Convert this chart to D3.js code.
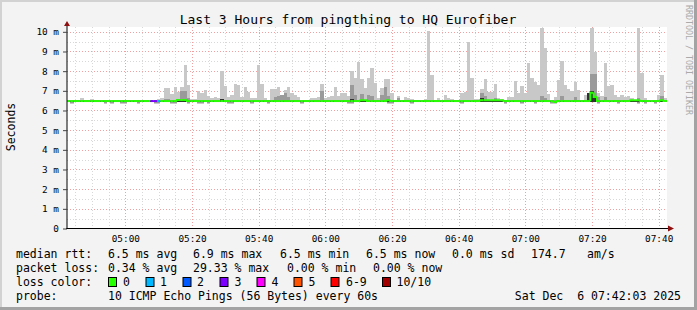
<!DOCTYPE html>
<html><head><meta charset="utf-8">
<script src="https://cdn.jsdelivr.net/npm/d3@7"></script>
<style>
body{margin:0;background:#f3f3f3}
svg{display:block}
text{font-family:"DejaVu Sans Mono",monospace;fill:#000}
</style>
</head><body>
<svg id="chart" width="697" height="310"></svg>
<script>
// ---------------- DATA ----------------
const titleText = "Last 3 Hours from pingthing to HQ Eurofiber";
const startTime = new Date(2025, 11, 6, 4, 42, 30);
const endTime = new Date(2025, 11, 6, 7, 42, 30);
const stepSeconds = 60;

// largest ping per 60 s step (ms)
const pingMaxMs = [
6.55,6.55,6.55,6.55,6.64,6.55,6.55,6.60,6.55,6.55,
6.55,6.55,6.55,6.55,6.55,6.55,6.55,6.55,6.55,6.55,
6.55,6.55,6.55,6.55,6.55,6.55,6.55,6.58,6.64,7.15,
7.15,6.83,7.20,6.95,7.20,8.30,7.29,6.60,6.60,7.00,
6.87,7.03,6.73,6.64,6.70,6.64,8.00,7.24,6.70,6.78,
7.34,7.29,6.70,7.20,6.95,6.62,6.62,8.30,7.34,6.64,
6.55,7.08,7.08,7.20,6.81,7.03,7.20,6.87,6.78,6.70,
6.55,6.55,6.55,6.62,6.62,6.70,7.37,6.64,6.70,6.73,
7.20,6.73,6.90,6.87,6.73,8.00,7.63,8.47,7.58,7.12,
7.63,8.16,7.40,6.64,7.12,7.60,7.60,6.87,6.55,6.73,
6.55,6.70,6.64,6.58,6.55,6.55,6.55,6.58,10.05,7.80,
6.55,6.62,6.55,6.78,6.64,6.60,6.55,6.55,6.87,6.95,
9.49,7.63,6.60,6.58,7.08,7.60,6.95,6.95,7.37,6.62,
6.60,6.55,6.70,6.70,7.49,6.87,7.24,6.87,8.42,7.66,
7.46,7.29,10.20,9.19,6.83,6.55,6.70,7.54,8.52,7.29,
7.07,6.98,7.46,7.03,6.55,6.78,6.78,10.17,8.99,6.87,
6.73,8.42,7.24,7.32,6.78,6.70,6.78,6.70,6.73,6.62,
6.55,10.20,7.92,6.64,6.55,6.55,6.55,6.78,7.80,6.62];

// top of the inner (darker) ping band (ms)
const pingInnerMs = [
6.52,6.52,6.52,6.52,6.52,6.52,6.52,6.52,6.52,6.52,
6.52,6.52,6.52,6.52,6.52,6.52,6.52,6.52,6.52,6.52,
6.52,6.52,6.52,6.52,6.52,6.52,6.52,6.52,6.52,6.60,
6.60,6.52,6.52,6.52,7.00,7.00,6.65,6.52,6.52,6.52,
6.52,6.52,6.52,6.52,6.52,6.52,6.52,6.52,6.52,6.52,
6.52,6.52,6.52,6.52,6.52,6.52,6.52,6.52,6.52,6.52,
6.52,6.52,6.70,6.75,6.80,6.87,6.70,6.52,6.52,6.52,
6.52,6.52,6.52,6.52,6.52,6.52,7.00,6.52,6.52,6.52,
6.52,6.52,6.52,6.52,6.52,7.29,6.78,6.52,6.85,6.52,
6.78,6.72,6.52,6.52,6.78,7.20,6.73,6.52,6.52,6.65,
6.52,6.52,6.52,6.52,6.52,6.52,6.52,6.52,6.52,6.52,
6.52,6.52,6.52,6.52,6.52,6.52,6.52,6.52,6.52,6.52,
6.52,6.52,6.52,6.52,6.87,6.75,6.52,6.52,6.65,6.52,
6.52,6.52,6.52,6.52,6.52,6.52,6.52,6.52,6.52,6.52,
6.52,6.52,6.73,6.65,6.52,6.52,6.52,6.52,6.75,6.52,
6.52,6.52,6.70,6.52,6.52,6.52,6.75,7.88,7.88,6.70,
6.52,6.70,6.52,6.52,6.52,6.52,6.52,6.52,6.52,6.52,
6.52,6.65,6.52,6.52,6.52,6.52,6.52,6.52,6.73,6.52];

// top of the core (darkest) ping band (ms)
const pingCoreMs = [
6.46,6.46,6.46,6.46,6.46,6.46,6.46,6.46,6.46,6.46,
6.46,6.46,6.46,6.46,6.46,6.46,6.46,6.46,6.46,6.46,
6.46,6.46,6.46,6.46,6.46,6.46,6.46,6.46,6.46,6.46,
6.46,6.46,6.46,6.46,6.46,6.46,6.46,6.46,6.46,6.46,
6.46,6.46,6.46,6.46,6.46,6.46,6.58,6.46,6.46,6.46,
6.46,6.46,6.46,6.46,6.46,6.46,6.46,6.46,6.46,6.46,
6.46,6.46,6.46,6.46,6.46,6.46,6.46,6.46,6.46,6.46,
6.46,6.46,6.46,6.46,6.46,6.46,6.46,6.46,6.46,6.46,
6.46,6.46,6.46,6.46,6.46,6.60,6.46,6.46,6.46,6.46,
6.46,6.46,6.46,6.46,6.46,6.46,6.46,6.46,6.46,6.46,
6.46,6.46,6.46,6.46,6.46,6.46,6.46,6.46,6.46,6.46,
6.46,6.46,6.46,6.46,6.46,6.46,6.46,6.46,6.46,6.46,
6.46,6.46,6.46,6.46,6.62,6.46,6.46,6.46,6.46,6.46,
6.46,6.46,6.46,6.46,6.46,6.46,6.46,6.46,6.46,6.46,
6.46,6.46,6.46,6.46,6.46,6.46,6.46,6.46,6.46,6.46,
6.46,6.46,6.46,6.46,6.46,6.46,6.90,6.98,6.75,6.46,
6.46,6.46,6.46,6.46,6.46,6.46,6.46,6.46,6.46,6.46,
6.46,6.46,6.46,6.46,6.46,6.46,6.46,6.46,6.46,6.46];

// smallest ping per step (ms)
const pingMinMs = [
6.44,6.34,6.44,6.44,6.44,6.44,6.44,6.44,6.44,6.44,
6.44,6.34,6.44,6.34,6.44,6.44,6.34,6.34,6.44,6.44,
6.44,6.34,6.44,6.44,6.44,6.44,6.34,6.34,6.44,6.44,
6.44,6.34,6.34,6.44,6.44,6.44,6.34,6.44,6.44,6.34,
6.34,6.44,6.34,6.44,6.44,6.44,6.44,6.44,6.34,6.34,
6.44,6.44,6.44,6.44,6.44,6.34,6.44,6.44,6.44,6.44,
6.34,6.44,6.44,6.44,6.44,6.44,6.44,6.44,6.44,6.44,
6.34,6.44,6.44,6.44,6.44,6.44,6.44,6.44,6.44,6.44,
6.44,6.44,6.44,6.44,6.34,6.34,6.44,6.44,6.44,6.44,
6.44,6.44,6.44,6.44,6.44,6.44,6.34,6.34,6.44,6.44,
6.44,6.44,6.44,6.34,6.44,6.44,6.44,6.44,6.44,6.44,
6.44,6.44,6.44,6.44,6.44,6.44,6.44,6.44,6.34,6.44,
6.44,6.44,6.44,6.44,6.44,6.44,6.44,6.44,6.44,6.44,
6.44,6.34,6.44,6.44,6.44,6.44,6.34,6.44,6.44,6.44,
6.34,6.44,6.44,6.44,6.44,6.34,6.34,6.44,6.44,6.44,
6.44,6.44,6.44,6.44,6.44,6.44,6.44,6.44,6.44,6.34,
6.44,6.44,6.44,6.44,6.44,6.34,6.44,6.44,6.44,6.44,
6.44,6.34,6.44,6.34,6.44,6.44,6.34,6.44,6.44,6.44];

// median rtt per step (ms)
const medianMs = [
6.48,6.48,6.48,6.48,6.48,6.48,6.48,6.48,6.48,6.48,
6.48,6.48,6.48,6.48,6.48,6.48,6.48,6.48,6.48,6.48,
6.48,6.48,6.48,6.48,6.48,6.48,6.48,6.48,6.48,6.48,
6.48,6.48,6.48,6.53,6.53,6.53,6.48,6.48,6.48,6.48,
6.48,6.48,6.48,6.48,6.48,6.48,6.48,6.48,6.48,6.48,
6.48,6.48,6.48,6.48,6.48,6.48,6.48,6.48,6.48,6.48,
6.48,6.48,6.48,6.48,6.48,6.48,6.48,6.48,6.48,6.48,
6.48,6.48,6.48,6.48,6.48,6.48,6.48,6.48,6.48,6.48,
6.48,6.48,6.48,6.48,6.48,6.48,6.48,6.48,6.52,6.52,
6.48,6.48,6.48,6.48,6.48,6.48,6.52,6.48,6.48,6.48,
6.48,6.48,6.48,6.48,6.48,6.48,6.48,6.48,6.48,6.48,
6.48,6.48,6.48,6.48,6.48,6.48,6.48,6.48,6.48,6.48,
6.48,6.48,6.48,6.48,6.52,6.52,6.52,6.52,6.52,6.52,
6.52,6.48,6.48,6.48,6.48,6.48,6.48,6.48,6.48,6.48,
6.48,6.48,6.48,6.48,6.48,6.48,6.43,6.48,6.48,6.48,
6.48,6.48,6.48,6.48,6.48,6.48,6.48,6.90,6.68,6.48,
6.48,6.48,6.48,6.48,6.48,6.48,6.48,6.48,6.48,6.52,
6.52,6.52,6.48,6.48,6.48,6.48,6.48,6.48,6.52,6.48];

// lost pings (of 10) per step
const lossCount = [
0,0,0,0,0,0,0,0,0,0, 0,0,0,0,0,0,0,0,0,0, 0,0,0,0,0,3,3,1,0,0,
0,0,0,0,0,0,0,0,0,0, 0,0,0,0,0,0,0,0,0,0, 0,0,0,0,0,0,0,0,0,0,
0,0,0,0,0,0,0,0,0,0, 0,0,0,0,0,0,0,0,0,0, 0,0,0,0,0,0,0,0,0,0,
0,0,0,0,0,0,0,0,0,0, 0,0,0,0,0,0,0,0,0,0, 0,0,0,0,0,0,0,0,0,0,
0,0,0,0,0,0,0,0,0,0, 0,0,0,0,0,0,0,0,0,0, 0,0,0,0,0,0,0,0,0,0,
0,0,0,0,0,0,0,0,0,0, 0,0,0,0,0,0,0,0,0,0, 0,0,0,0,0,0,0,0,0,0];

const yTickValues = [0,1,2,3,4,5,6,7,8,9,10];
const lossLegendLabels = ["0","1","2","3","4","5","6-9","10/10"];
const lossLegendColors = ["#26ff00","#00b8ff","#0059ff","#7e00ff","#ff00ff","#ff5500","#ff0000","#a10000"];
const lossLegendBoxX = [108,145.5,182.5,219.5,256.5,293.5,330.5,382];
const lossLegendTextX = [123,160,197,234.5,271.5,308.5,346,396.5];
const legendRtt = [["median rtt:",16],["6.5 ms avg",108],["6.9 ms max",193],["6.5 ms min",280],["6.5 ms now",366],["0.0 ms sd",452],["174.7",531],["am/s",587]];
const legendLoss = [["packet loss:",16],["0.34 % avg",108],["29.33 % max",193],["0.00 % min",287],["0.00 % now",373]];
const probeText = "10 ICMP Echo Pings (56 Bytes) every 60s";
const dateText = "Sat Dec  6 07:42:03 2025";

// ---------------- DRAW ----------------
const svg = d3.select("#chart");
const W = 697, H = 310;
const x = d3.scaleTime().domain([startTime, endTime]).range([67, 667]);
const y = d3.scaleLinear().domain([0, 10.22]).range([228.5, 27.5]);
const lossColor = n => n === 0 ? lossLegendColors[0] : n <= 5 ? lossLegendColors[n] : n < 10 ? lossLegendColors[6] : lossLegendColors[7];

// frame
svg.append("rect").attr("width", W).attr("height", H).attr("fill", "#f3f3f3");
svg.append("rect").attr("x",0).attr("y",0).attr("width",W).attr("height",2).attr("fill","#d2d2d2");
svg.append("rect").attr("x",0).attr("y",0).attr("width",2).attr("height",H).attr("fill","#d2d2d2");
svg.append("rect").attr("x",W-3).attr("y",0).attr("width",3).attr("height",H).attr("fill","#a3a3a3");
svg.append("rect").attr("x",0).attr("y",H-3).attr("width",W).attr("height",3).attr("fill","#a3a3a3");

// plot background
svg.append("rect").attr("x", 67).attr("y", 27).attr("width", 600).attr("height", 201.5).attr("fill", "#ffffff");

// grid
const g = svg.append("g").attr("shape-rendering", "crispEdges");
const minorT = x.ticks(d3.timeMinute.every(5));
minorT.forEach(t => {
  const major = t.getMinutes() % 20 === 0;
  const xx = Math.round(x(t)) + 0.5;
  g.append("line").attr("x1", xx).attr("x2", xx).attr("y1", 27).attr("y2", 228)
    .attr("stroke", major ? "#f0a0a0" : "#d8d8d8").attr("stroke-dasharray", "1,2");
});
d3.range(0.5, 10.3, 0.5).forEach(v => {
  const major = Math.abs(v - Math.round(v)) < 1e-6;
  const yy = Math.round(y(v)) + 0.5;
  g.append("line").attr("x1", 67).attr("x2", 667).attr("y1", yy).attr("y2", yy)
    .attr("stroke", major ? "#f0a0a0" : "#d8d8d8").attr("stroke-dasharray", "1,2");
});

// smoke
const steps = pingMaxMs.map((v, k) => ({
  t0: new Date(startTime.getTime() + k * stepSeconds * 1000),
  t1: new Date(startTime.getTime() + (k + 1) * stepSeconds * 1000),
  max: v, inner: pingInnerMs[k], core: pingCoreMs[k], min: pingMinMs[k],
  med: medianMs[k], loss: lossCount[k]
}));
const sm = svg.append("g").attr("shape-rendering", "crispEdges");
function band(key, lo, color) {
  sm.selectAll(null).data(steps.filter(d => d[key] > lo(d))).enter().append("rect")
    .attr("x", d => x(d.t0)).attr("width", d => x(d.t1) - x(d.t0))
    .attr("y", d => y(d[key])).attr("height", d => Math.max(0, y(lo(d)) - y(d[key])))
    .attr("fill", color);
}
band("max", d => d.min, "#c8c8c8");
band("inner", d => Math.max(d.min, 6.40), "#9a9a9a");
band("core", d => 6.44, "#303030");

// median line coloured by loss
const ml = svg.append("g").attr("fill", "none").attr("stroke-width", 2);
steps.forEach((d, k) => {
  const x0 = x(d.t0), x1 = x(d.t1);
  const prev = k > 0 ? steps[k - 1].med : d.med;
  ml.append("path")
    .attr("d", `M${x0},${y(prev)}V${y(d.med)}H${x1}`)
    .attr("stroke", lossColor(d.loss));
});

// axes
svg.append("line").attr("x1", 67).attr("x2", 67).attr("y1", 229).attr("y2", 25).attr("stroke", "#000").attr("stroke-width", 1);
svg.append("line").attr("x1", 66).attr("x2", 669).attr("y1", 228.5).attr("y2", 228.5).attr("stroke", "#000").attr("shape-rendering", "crispEdges");
svg.append("path").attr("d", "M64,26L67,21L70,26Z").attr("fill", "#8e1010");
svg.append("path").attr("d", "M668,225.5L674,228.5L668,231.5Z").attr("fill", "#8e1010");

// y axis labels
const yAxis = d3.axisLeft(y).tickValues(yTickValues)
  .tickFormat(v => v === 0 ? "0" : v + " m").tickSize(4).tickPadding(4);
const ya = svg.append("g").attr("transform", "translate(67,0)").call(yAxis);
ya.select(".domain").remove();
ya.selectAll(".tick line").attr("stroke", "#444");
ya.selectAll("text").attr("font-family", "DejaVu Sans Mono").attr("font-size", "9.4px").attr("fill", "#000");

// x axis labels
const xAxis = d3.axisBottom(x).ticks(d3.timeMinute.every(20)).tickFormat(d3.timeFormat("%H:%M")).tickSize(0).tickPadding(7);
const xa = svg.append("g").attr("transform", "translate(0,228)").call(xAxis);
xa.select(".domain").remove();
xa.selectAll("text").attr("font-family", "DejaVu Sans Mono").attr("font-size", "9.4px").attr("fill", "#000");

// title
svg.append("text").attr("x", 348).attr("y", 24).attr("text-anchor", "middle")
  .attr("font-size", "13px").text(titleText);
// y axis title
svg.append("text").attr("transform", "translate(15,127) rotate(-90)").attr("text-anchor", "middle")
  .attr("font-size", "11.5px").text("Seconds");
// watermark
svg.append("text").attr("transform", "translate(686,5) rotate(90)").attr("text-anchor", "start")
  .attr("font-size", "8.3px").style("fill", "#aaaaaa").text("RRDTOOL / TOBI OETIKER");

// legend
const lg = svg.append("g").attr("font-size", "11.5px");
legendRtt.forEach(([t, xx]) => lg.append("text").attr("x", xx).attr("y", 258).text(t));
legendLoss.forEach(([t, xx]) => lg.append("text").attr("x", xx).attr("y", 272).text(t));
lg.append("text").attr("x", 16).attr("y", 286).text("loss color:");
lossLegendLabels.forEach((lab, i) => {
  lg.append("rect").attr("x", lossLegendBoxX[i] + 0.5).attr("y", 277.5).attr("width", 8).attr("height", 9)
    .attr("fill", lossLegendColors[i]).attr("stroke", "#000").attr("stroke-width", 1);
  lg.append("text").attr("x", lossLegendTextX[i]).attr("y", 286).text(lab);
});
lg.append("text").attr("x", 16).attr("y", 300).text("probe:");
lg.append("text").attr("x", 108).attr("y", 300).text(probeText);
lg.append("text").attr("x", 681).attr("y", 300).attr("text-anchor", "end").style("white-space", "pre").attr("xml:space", "preserve").text(dateText);
</script>
</body></html>
